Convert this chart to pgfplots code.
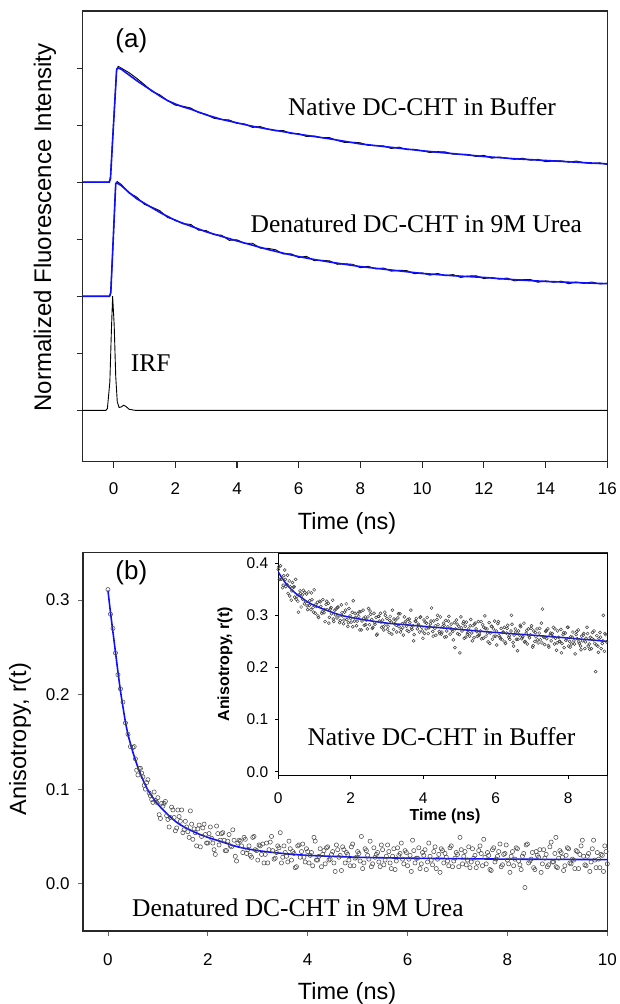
\documentclass[border=0pt]{standalone}
\usepackage{fontspec}
\setmainfont{Liberation Serif}
\setsansfont{Liberation Sans}
\usepackage{pgfplots}
\pgfplotsset{compat=1.18}
\definecolor{fitblue}{RGB}{15,15,255}
\definecolor{axgray}{RGB}{40,40,40}
\newcommand{\fs}[1]{\fontsize{#1}{#1}\selectfont}
\begin{document}
\begin{tikzpicture}
\path[use as bounding box] (0pt,0pt) rectangle (619pt,-1004pt);

% ---------- panel (a): decays ----------
\begin{axis}[
  at={(82.7pt,-461.7pt)}, anchor=south west, scale only axis,
  width=524.6pt, height=450.7pt,
  xmin=-1, xmax=16, ymin=-0.9, ymax=7,
  xtick={0,2,...,16}, ytick={0,...,6}, yticklabels={},
  tick align=outside, xtick pos=left, ytick pos=left, major tick length=6pt,
  axis line style={line width=1.3pt, axgray}, tick style={line width=1.1pt, axgray},
  /pgf/number format/assume math mode=true,
  tick label style={font=\sffamily\fs{17}},
  xticklabel style={anchor=center, yshift=-20.5pt},
]
% IRF
\addplot[black, line width=0.9pt] coordinates {(-1,0)(-0.25,0)(-0.2,0.03)(-0.12,0.5)(-0.07,1.4)(-0.03,2.0)(0.02,1.5)(0.07,0.6)(0.12,0.15)(0.18,0.05)(0.25,0.06)(0.33,0.09)(0.4,0.07)(0.5,0.02)(0.7,0)(16,0)};
% denatured: data
\addplot[black, line width=0.9pt] coordinates {(-1,2)(-0.5,2)(-0.13,2)(-0.09,2.08)(0,3.1)(0.07,3.98)(0.12,4.01)(0.25,3.96)(0.5,3.81)(0.75,3.74)(1,3.61)(1.25,3.56)(1.5,3.50)(1.75,3.38)(2,3.34)(2.25,3.27)(2.5,3.26)(2.75,3.16)(3,3.15)(3.25,3.08)(3.5,3.07)(3.75,2.98)(4,2.99)(4.25,2.925)(4.5,2.93)(4.75,2.845)(5,2.84)(5.25,2.815)(5.5,2.74)(5.75,2.745)(6,2.68)(6.25,2.70)(6.5,2.625)(6.75,2.63)(7,2.62)(7.25,2.56)(7.5,2.57)(7.75,2.56)(8,2.50)(8.25,2.525)(8.5,2.48)(8.75,2.495)(9,2.44)(9.25,2.455)(9.5,2.45)(9.75,2.395)(10,2.41)(10.25,2.37)(10.5,2.40)(10.75,2.36)(11,2.38)(11.25,2.33)(11.5,2.355)(11.75,2.36)(12,2.31)(12.25,2.33)(12.5,2.30)(12.75,2.32)(13,2.27)(13.25,2.29)(13.5,2.295)(13.75,2.245)(14,2.27)(14.25,2.245)(14.5,2.265)(14.75,2.22)(15,2.25)(15.25,2.225)(15.5,2.25)(15.75,2.215)(16,2.23)};
% native: data
\addplot[black, line width=0.9pt] coordinates {(-1,4)(-0.5,4)(-0.14,4)(-0.1,4.1)(0,5.05)(0.1,5.97)(0.15,6.03)(0.25,6.00)(0.5,5.92)(0.75,5.82)(1,5.71)(1.25,5.59)(1.5,5.53)(1.75,5.43)(2,5.35)(2.25,5.33)(2.5,5.30)(2.75,5.22)(3,5.19)(3.25,5.12)(3.5,5.10)(3.75,5.09)(4,5.03)(4.25,5.02)(4.5,4.96)(4.75,4.975)(5,4.93)(5.25,4.90)(5.5,4.905)(5.75,4.85)(6,4.85)(6.25,4.80)(6.5,4.81)(6.75,4.78)(7,4.78)(7.25,4.73)(7.5,4.695)(7.75,4.70)(8,4.69)(8.25,4.645)(8.5,4.64)(8.75,4.635)(9,4.59)(9.25,4.615)(9.5,4.57)(9.75,4.575)(10,4.55)(10.25,4.52)(10.5,4.535)(10.75,4.53)(11,4.49)(11.25,4.49)(11.5,4.485)(11.75,4.45)(12,4.47)(12.25,4.42)(12.5,4.44)(12.75,4.42)(13,4.40)(13.25,4.42)(13.5,4.385)(13.75,4.40)(14,4.36)(14.25,4.37)(14.5,4.375)(14.75,4.35)(15,4.37)(15.25,4.34)(15.5,4.325)(15.75,4.34)(16,4.31)};
% fits
\addplot[fitblue, line width=1.6pt] coordinates {(-1,2)(-0.13,2)(-0.09,2.06)(0.07,3.97)(0.1,3.99)(0.25,3.94)(0.5,3.82)(0.75,3.71)(1,3.63)(1.25,3.55)(1.5,3.47)(1.75,3.40)(2,3.33)(2.5,3.23)(3,3.13)(3.5,3.05)(4,2.97)(4.5,2.895)(5,2.82)(5.5,2.755)(6,2.695)(6.5,2.645)(7,2.60)(7.5,2.56)(8,2.52)(9,2.46)(10,2.40)(11,2.36)(12,2.33)(13,2.29)(14,2.26)(15,2.24)(16,2.22)};
\addplot[fitblue, line width=1.6pt] coordinates {(-1,4)(-0.14,4)(-0.1,4.06)(0.1,5.98)(0.15,6.0)(0.25,5.98)(0.5,5.88)(0.75,5.78)(1,5.69)(1.25,5.60)(1.5,5.51)(1.75,5.43)(2,5.37)(2.25,5.32)(2.5,5.28)(2.75,5.23)(3,5.18)(3.25,5.14)(3.5,5.10)(3.75,5.07)(4,5.04)(4.5,4.98)(5,4.93)(5.5,4.885)(6,4.84)(6.5,4.80)(7,4.76)(7.5,4.715)(8,4.67)(8.5,4.64)(9,4.61)(9.5,4.58)(10,4.55)(11,4.50)(12,4.45)(13,4.41)(14,4.38)(15,4.35)(16,4.32)};
\end{axis}

% ---------- panel (b): anisotropy, denatured ----------
\begin{axis}[
  at={(83pt,-931pt)}, anchor=south west, scale only axis,
  width=524.3pt, height=378.3pt,
  xmin=-0.5, xmax=10, ymin=-0.05, ymax=0.35,
  xtick={0,2,...,10}, ytick={0,0.1,0.2,0.3},
  tick align=outside, xtick pos=left, ytick pos=left, major tick length=5pt,
  axis line style={line width=1.3pt, axgray}, tick style={line width=0.9pt, axgray!70},
  /pgf/number format/assume math mode=true,
  tick label style={font=\sffamily\fs{17}},
  yticklabel style={xshift=-5pt, /pgf/number format/.cd, fixed, fixed zerofill, precision=1},
  xticklabel style={anchor=center, yshift=-23.5pt},
]
\addplot[only marks, mark=o, mark size=2.1pt, mark options={draw=black!70, line width=0.55pt}] coordinates {
(0,.311)(0.05,.285)(0.1,.270)(0.15,.244)(0.2,.221)(0.25,.206)(0.3,.192)(0.35,.170)(0.4,.158)(0.45,.145)
(0.5,.144)(0.55,.132)(0.6,.115)(0.65,.122)(0.7,.113)(0.75,.100)(0.8,.110)(0.85,.093)(0.9,.086)(0.95,.088)
(1,.091)(1.05,.069)(1.1,.082)(1.15,.087)(1.2,.068)(1.25,.070)(1.3,.078)(1.35,.056)(1.4,.078)(1.45,.066)
(1.5,.054)(1.55,.066)(1.6,.055)(1.65,.077)(1.7,.047)(1.75,.054)(1.8,.058)(1.85,.039)(1.9,.059)(1.95,.052)
(2,.043)(2.05,.060)(2.1,.043)(2.15,.031)(2.2,.053)(2.25,.046)(2.3,.054)(2.35,.035)(2.4,.045)(2.45,.040)
(2.5,.057)(2.55,.029)(2.6,.043)(2.65,.045)(2.7,.033)(2.75,.047)(2.8,.036)(2.85,.030)(2.9,.049)(2.95,.036)
(3,.025)(3.05,.040)(3.1,.042)(3.15,.031)(3.2,.022)(3.25,.044)(3.3,.035)(3.35,.027)(3.4,.040)(3.45,.054)
(3.5,.028)(3.55,.033)(3.6,.023)(3.65,.037)(3.7,.034)(3.75,.017)(3.8,.040)(3.85,.028)(3.9,.042)(3.95,.023)
(4,.034)(4.05,.030)(4.1,.019)(4.15,.045)(4.2,.025)(4.25,.037)(4.3,.031)(4.35,.021)(4.4,.039)(4.45,.026)
(4.5,.034)(4.55,.013)(4.6,.036)(4.65,.030)(4.7,.039)(4.75,.022)(4.8,.031)(4.85,.019)(4.9,.042)(4.95,.027)
(5,.034)(5.05,.024)(5.1,.016)(5.15,.037)(5.2,.030)(5.25,.045)(5.3,.021)(5.35,.028)(5.4,.033)(5.45,.018)
(5.5,.036)(5.55,.025)(5.6,.041)(5.65,.022)(5.7,.029)(5.75,.015)(5.8,.038)(5.85,.032)(5.9,.026)(5.95,.035)
(6,.019)(6.05,.030)(6.1,.046)(6.15,.022)(6.2,.027)(6.25,.016)(6.3,.033)(6.35,.036)(6.4,.023)(6.45,.029)
(6.5,.020)(6.55,.039)(6.6,.026)(6.65,.012)(6.7,.035)(6.75,.032)(6.8,.024)(6.85,.038)(6.9,.018)(6.95,.027)
(7,.031)(7.05,.049)(7.1,.021)(7.15,.034)(7.2,.025)(7.25,.017)(7.3,.037)(7.35,.030)(7.4,.022)(7.45,.040)
(7.5,.019)(7.55,.028)(7.6,.033)(7.65,.015)(7.7,.036)(7.75,.023)(7.8,.029)(7.85,.042)(7.9,.020)(7.95,.032)
(8,.025)(8.05,.012)(8.1,.034)(8.15,.026)(8.2,.037)(8.25,.020)(8.3,.029)(8.35,-.004)(8.4,.042)(8.45,.024)
(8.5,.033)(8.55,.015)(8.6,.030)(8.65,.036)(8.7,.021)(8.75,.027)(8.8,.018)(8.85,.039)(8.9,.023)(8.95,.032)
(9,.017)(9.05,.035)(9.1,.028)(9.15,.019)(9.2,.038)(9.25,.022)(9.3,.026)(9.35,.016)(9.4,.034)(9.45,.031)
(9.5,.046)(9.55,.020)(9.6,.029)(9.65,.013)(9.7,.037)(9.75,.025)(9.8,.033)(9.85,.017)(9.9,.030)(9.95,.040)(10,.021)(8.97,.049)
(0.525,.145)(0.575,.120)(0.625,.122)(0.675,.117)(0.725,.104)(0.775,.107)(0.825,.096)(0.875,.089)(0.925,.097)(0.975,.086)
(1.025,.073)(1.075,.085)(1.125,.085)(1.175,.072)(1.225,.060)(1.275,.081)(1.325,.070)(1.375,.059)(1.425,.071)(1.475,.078)
(1.525,.057)(1.575,.060)(1.625,.049)(1.675,.063)(1.725,.058)(1.775,.040)(1.825,.062)(1.875,.050)(1.925,.063)(1.975,.043)
(2.025,.053)(2.075,.048)(2.125,.036)(2.175,.061)(2.225,.041)(2.275,.053)(2.325,.046)(2.375,.035)(2.425,.052)(2.475,.039)
(2.525,.046)(2.575,.024)(2.625,.046)(2.675,.040)(2.725,.049)(2.775,.032)(2.825,.040)(2.875,.028)(2.925,.050)(2.975,.035)
(3.025,.041)(3.075,.031)(3.125,.022)(3.175,.043)(3.225,.036)(3.275,.050)(3.325,.026)(3.375,.033)(3.425,.038)(3.475,.022)
(3.525,.040)(3.575,.029)(3.625,.045)(3.675,.025)(3.725,.032)(3.775,.018)(3.825,.041)(3.875,.034)(3.925,.028)(3.975,.037)
(4.025,.022)(4.075,.033)(4.125,.049)(4.175,.025)(4.225,.029)(4.275,.018)(4.325,.035)(4.375,.038)(4.425,.025)(4.475,.031)
(4.525,.022)(4.575,.041)(4.625,.028)(4.675,.014)(4.725,.036)(4.775,.033)(4.825,.025)(4.875,.039)(4.925,.019)(4.975,.028)
(5.025,.032)(5.075,.050)(5.125,.022)(5.175,.035)(5.225,.026)(5.275,.018)(5.325,.038)(5.375,.031)(5.425,.023)(5.475,.041)
(5.525,.020)(5.575,.029)(5.625,.034)(5.675,.016)(5.725,.037)(5.775,.024)(5.825,.030)(5.875,.043)(5.925,.021)(5.975,.033)
(6.025,.026)(6.075,.013)(6.125,.035)(6.175,.027)(6.225,.038)(6.275,.021)(6.325,.030)(6.375,.015)(6.425,.043)(6.475,.025)
(6.525,.034)(6.575,.016)(6.625,.031)(6.675,.037)(6.725,.022)(6.775,.028)(6.825,.019)(6.875,.040)(6.925,.024)(6.975,.033)
(7.025,.018)(7.075,.036)(7.125,.029)(7.175,.020)(7.225,.039)(7.275,.023)(7.325,.027)(7.375,.017)(7.425,.035)(7.475,.032)
(7.525,.047)(7.575,.021)(7.625,.030)(7.675,.014)(7.725,.038)(7.775,.026)(7.825,.034)(7.875,.018)(7.925,.031)(7.975,.041)
(8.025,.021)(8.075,.029)(8.125,.019)(8.175,.038)(8.225,.024)(8.275,.015)(8.325,.032)(8.375,.041)(8.425,.022)(8.475,.026)
(8.525,.017)(8.575,.034)(8.625,.028)(8.675,.012)(8.725,.036)(8.775,.031)(8.825,.020)(8.875,.044)(8.925,.023)(8.975,.018)
(9.025,.027)(9.075,.033)(9.125,.014)(9.175,.030)(9.225,.037)(9.275,.021)(9.325,.025)(9.375,.035)(9.425,.016)(9.475,.040)
(9.525,.029)(9.575,.019)(9.625,.032)(9.675,.023)(9.725,.046)(9.775,.017)(9.825,.026)(9.875,.031)(9.925,.013)(9.975,.034)};
\addplot[fitblue, line width=1.6pt, smooth] coordinates {(0,.310)(0.05,.287)(0.1,.266)(0.15,.245)(0.2,.224)(0.25,.204)(0.3,.187)(0.35,.171)(0.4,.158)(0.45,.148)(0.5,.139)(0.6,.123)(0.7,.110)(0.8,.099)(0.9,.091)(1,.084)(1.2,.073)(1.4,.064)(1.6,.058)(1.8,.053)(2,.049)(2.3,.044)(2.6,.039)(3,.035)(3.5,.032)(4,.030)(5,.028)(6,.027)(7,.0265)(8,.026)(10,.0255)};
\end{axis}

% ---------- inset: anisotropy, native ----------
\begin{axis}[
  at={(278.3pt,-775.5pt)}, anchor=south west, scale only axis,
  width=329pt, height=222.2pt,
  xmin=0, xmax=9.08, ymin=-0.0073, ymax=0.419,
  xtick={0,2,...,8}, ytick={0,0.1,...,0.4},
  axis background/.style={fill=white},
  tick align=outside, xtick pos=left, ytick pos=left, major tick length=3.5pt,
  axis line style={line width=1.1pt, black}, tick style={line width=0.8pt, black},
  /pgf/number format/assume math mode=true,
  tick label style={font=\sffamily\fs{15.5}},
  yticklabel style={xshift=-3pt, /pgf/number format/.cd, fixed, fixed zerofill, precision=1},
  xticklabel style={anchor=center, yshift=-19pt},
]
\addplot[only marks, mark=o, mark size=1.5pt, mark options={draw=black!75, line width=0.5pt}] coordinates {
(0,.388)(0.03,.369)(0.06,.395)(0.09,.370)(0.12,.353)(0.15,.376)(0.18,.387)(0.21,.355)(0.24,.359)(0.27,.342)
(0.3,.366)(0.33,.355)(0.36,.329)(0.39,.363)(0.42,.354)(0.45,.335)(0.48,.369)(0.51,.336)(0.54,.327)(0.57,.339)
(0.6,.347)(0.63,.316)(0.66,.339)(0.69,.348)(0.72,.322)(0.75,.326)(0.78,.341)(0.81,.311)(0.84,.345)(0.87,.328)
(0.9,.311)(0.93,.330)(0.96,.315)(0.99,.349)(1.02,.304)(1.05,.317)(1.08,.325)(1.11,.296)(1.14,.327)(1.17,.317)
(1.2,.304)(1.23,.330)(1.26,.305)(1.29,.288)(1.32,.321)(1.35,.311)(1.38,.323)(1.41,.296)(1.44,.312)(1.47,.303)
(1.5,.329)(1.53,.288)(1.56,.310)(1.59,.312)(1.62,.295)(1.65,.316)(1.68,.299)(1.71,.290)(1.74,.320)(1.77,.299)
(1.8,.284)(1.83,.306)(1.86,.310)(1.89,.292)(1.92,.279)(1.95,.313)(1.98,.299)(2.01,.287)(2.04,.306)(2.07,.328)
(2.1,.289)(2.13,.296)(2.16,.280)(2.19,.303)(2.22,.298)(2.25,.272)(2.28,.307)(2.31,.289)(2.34,.310)(2.37,.281)
(2.4,.297)(2.43,.291)(2.46,.274)(2.49,.313)(2.52,.282)(2.55,.302)(2.58,.292)(2.61,.277)(2.64,.304)(2.67,.283)
(2.7,.296)(2.73,.264)(2.76,.298)(2.79,.289)(2.82,.304)(2.85,.277)(2.88,.291)(2.91,.272)(2.94,.306)(2.97,.283)
(3,.294)(3.03,.279)(3.06,.267)(3.09,.298)(3.12,.287)(3.15,.310)(3.18,.273)(3.21,.284)(3.24,.291)(3.27,.268)
(3.3,.295)(3.33,.278)(3.36,.303)(3.39,.273)(3.42,.284)(3.45,.262)(3.48,.297)(3.51,.288)(3.54,.279)(3.57,.292)
(3.6,.269)(3.63,.286)(3.66,.310)(3.69,.273)(3.72,.280)(3.75,.263)(3.78,.289)(3.81,.294)(3.84,.274)(3.87,.283)
(3.9,.268)(3.93,.297)(3.96,.277)(3.99,.256)(4.02,.291)(4.05,.287)(4.08,.274)(4.11,.296)(4.14,.265)(4.17,.278)
(4.2,.284)(4.23,.314)(4.26,.269)(4.29,.289)(4.32,.275)(4.35,.262)(4.38,.292)(4.41,.282)(4.44,.269)(4.47,.297)
(4.5,.264)(4.53,.278)(4.56,.285)(4.59,.258)(4.62,.290)(4.65,.270)(4.68,.278)(4.71,.298)(4.74,.264)(4.77,.283)
(4.8,.273)(4.83,.253)(4.86,.286)(4.89,.274)(4.92,.291)(4.95,.265)(4.98,.279)(5.01,.228)(5.04,.297)(5.07,.270)
(5.1,.284)(5.13,.256)(5.16,.279)(5.19,.287)(5.22,.264)(5.25,.274)(5.28,.260)(5.31,.292)(5.34,.266)(5.37,.280)
(5.4,.257)(5.43,.285)(5.46,.274)(5.49,.260)(5.52,.288)(5.55,.264)(5.58,.270)(5.61,.255)(5.64,.282)(5.67,.277)
(5.7,.299)(5.73,.260)(5.76,.274)(5.79,.249)(5.82,.286)(5.85,.266)(5.88,.279)(5.91,.254)(5.94,.274)(5.97,.289)
(6,.260)(6.03,.243)(6.06,.284)(6.09,.261)(6.12,.258)(6.15,.275)(6.18,.253)(6.21,.268)(6.24,.277)(6.27,.246)
(6.3,.266)(6.33,.281)(6.36,.258)(6.39,.254)(6.42,.270)(6.45,.283)(6.48,.248)(6.51,.262)(6.54,.274)(6.57,.254)
(6.6,.232)(6.63,.270)(6.66,.262)(6.69,.278)(6.72,.255)(6.75,.259)(6.78,.285)(6.81,.250)(6.84,.266)(6.87,.245)
(6.9,.274)(6.93,.257)(6.96,.263)(6.99,.280)(7.02,.239)(7.05,.270)(7.08,.250)(7.11,.259)(7.14,.274)(7.17,.247)
(7.2,.266)(7.23,.253)(7.26,.285)(7.29,.312)(7.32,.259)(7.35,.244)(7.38,.269)(7.41,.255)(7.44,.274)(7.47,.239)
(7.5,.262)(7.53,.251)(7.56,.265)(7.59,.277)(7.62,.245)(7.65,.256)(7.68,.233)(7.71,.270)(7.74,.258)(7.77,.250)
(7.8,.273)(7.83,.246)(7.86,.263)(7.89,.238)(7.92,.266)(7.95,.255)(7.98,.277)(8.01,.241)(8.04,.250)(8.07,.259)
(8.1,.245)(8.13,.268)(8.16,.251)(8.19,.226)(8.22,.263)(8.25,.255)(8.28,.272)(8.31,.246)(8.34,.241)(8.37,.260)
(8.4,.251)(8.43,.265)(8.46,.236)(8.49,.256)(8.52,.277)(8.55,.241)(8.58,.245)(8.61,.258)(8.64,.236)(8.67,.267)
(8.7,.253)(8.73,.246)(8.76,.192)(8.79,.261)(8.82,.241)(8.85,.255)(8.88,.267)(8.91,.236)(8.94,.246)(8.97,.300)
(9,.231)(9.03,.263)(9.06,.249)
(0.015,.393)(0.075,.369)(0.135,.358)(0.195,.369)(0.255,.377)(0.315,.337)(0.375,.347)(0.435,.355)(0.495,.331)(0.555,.306)
(0.615,.342)(0.675,.331)(0.735,.344)(0.795,.318)(0.855,.319)(0.915,.343)(0.975,.306)(1.035,.321)(1.095,.299)(1.155,.326)
(1.215,.307)(1.275,.311)(1.335,.327)(1.395,.285)(1.455,.315)(1.515,.293)(1.575,.301)(1.635,.315)(1.695,.286)(1.755,.305)
(1.815,.291)(1.875,.322)(1.935,.286)(1.995,.294)(2.055,.278)(2.115,.304)(2.175,.289)(2.235,.307)(2.295,.272)(2.355,.294)
(2.415,.282)(2.475,.297)(2.535,.308)(2.595,.275)(2.655,.286)(2.715,.262)(2.775,.298)(2.835,.287)(2.895,.278)(2.955,.300)
(3.015,.273)(3.075,.290)(3.135,.264)(3.195,.293)(3.255,.281)(3.315,.303)(3.375,.268)(3.435,.276)(3.495,.285)(3.555,.271)
(3.615,.293)(3.675,.276)(3.735,.251)(3.795,.288)(3.855,.280)(3.915,.296)(3.975,.270)(4.035,.265)(4.095,.285)(4.155,.276)
(4.215,.289)(4.275,.260)(4.335,.280)(4.395,.300)(4.455,.265)(4.515,.268)(4.575,.281)(4.635,.259)(4.695,.289)(4.755,.275)
(4.815,.269)(4.875,.238)(4.935,.283)(4.995,.263)(5.055,.276)(5.115,.288)(5.175,.258)(5.235,.267)(5.295,.280)(5.355,.251)
(5.415,.283)(5.475,.269)(5.535,.261)(5.595,.288)(5.655,.256)(5.715,.275)(5.775,.266)(5.835,.246)(5.895,.279)(5.955,.260)
(6.015,.270)(6.075,.288)(6.135,.255)(6.195,.267)(6.255,.249)(6.315,.275)(6.375,.261)(6.435,.300)(6.495,.241)(6.555,.268)
(6.615,.254)(6.675,.281)(6.735,.258)(6.795,.249)(6.855,.271)(6.915,.261)(6.975,.275)(7.035,.242)(7.095,.267)(7.155,.253)
(7.215,.275)(7.275,.247)(7.335,.258)(7.395,.271)(7.455,.242)(7.515,.266)(7.575,.259)(7.635,.274)(7.695,.247)(7.755,.250)
(7.815,.228)(7.875,.267)(7.935,.252)(7.995,.277)(8.055,.239)(8.115,.258)(8.175,.245)(8.235,.269)(8.295,.249)(8.355,.234)
(8.415,.262)(8.475,.249)(8.535,.265)(8.595,.235)(8.655,.256)(8.715,.270)(8.775,.243)(8.835,.229)(8.895,.258)(8.955,.251)(9.015,.265)};
\addplot[fitblue, line width=1.5pt, smooth] coordinates {(0,.383)(0.1,.372)(0.2,.362)(0.3,.354)(0.4,.347)(0.5,.341)(0.6,.336)(0.7,.331)(0.8,.326)(0.9,.322)(1,.319)(1.2,.313)(1.4,.308)(1.6,.303)(1.8,.299)(2,.296)(2.5,.290)(3,.285)(3.5,.282)(4,.279)(5,.273)(6,.267)(7,.262)(8,.2565)(9.08,.250)};
\end{axis}

% ---------- texts ----------
\node[font=\sffamily\fs{24}, rotate=90] at (45pt,-227.5pt) {Normalized Fluorescence Intensity};
\node[font=\sffamily\fs{23.5}] at (347pt,-523pt) {Time (ns)};
\node[font=\sffamily\fs{26}] at (131.3pt,-40.7pt) {(a)};
\node[font=\fs{25.5}, anchor=base] at (422pt,-115.7pt) {Native DC-CHT in Buffer};
\node[font=\fs{25.5}, anchor=base] at (416.3pt,-232.3pt) {Denatured DC-CHT in 9M Urea};
\node[font=\fs{25.5}, anchor=base west, inner sep=0pt] at (130.7pt,-371.7pt) {IRF};

\node[font=\sffamily\fs{23.5}, rotate=90] at (20pt,-739pt) {Anisotropy, r(t)};
\node[font=\sffamily\fs{23.5}] at (347pt,-993.3pt) {Time (ns)};
\node[font=\sffamily\fs{26}] at (131.3pt,-572.5pt) {(b)};
\node[font=\fs{25.5}, anchor=base west, inner sep=0pt] at (132pt,-916pt) {Denatured DC-CHT in 9M Urea};
\node[font=\fs{25.5}, anchor=base west, inner sep=0pt] at (307.3pt,-745pt) {Native DC-CHT in Buffer};
\node[font=\sffamily\bfseries\fs{16}, rotate=90] at (225pt,-664.2pt) {Anisotropy, r(t)};
\node[font=\sffamily\bfseries\fs{16}] at (445pt,-816.7pt) {Time (ns)};
\end{tikzpicture}
\end{document}
